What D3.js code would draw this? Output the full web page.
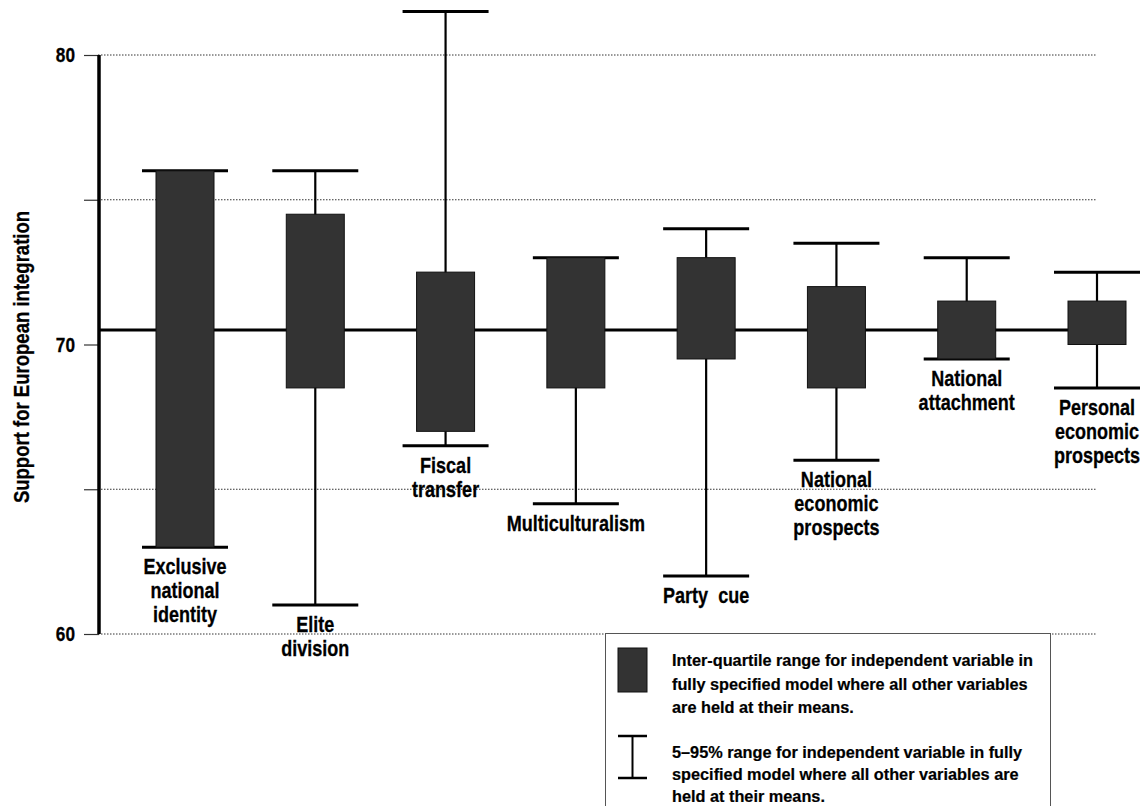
<!DOCTYPE html>
<html>
<head>
<meta charset="utf-8">
<script src="https://cdn.jsdelivr.net/npm/d3@7"></script>
<style>
  body { margin: 0; background: #fff; }
  svg { display: block; }
  text { font-family: "Liberation Sans", Arial, sans-serif; font-weight: bold; fill: #000; }
</style>
</head>
<body>
<svg id="chart" width="1144" height="806"></svg>
<script>
// categories and their label lines
var categories = ["excl", "elite", "fiscal", "multi", "party", "natecon", "natattach", "personal"];
var labels = [
  ["Exclusive", "national", "identity"],
  ["Elite", "division"],
  ["Fiscal", "transfer"],
  ["Multiculturalism"],
  ["Party  cue"],
  ["National", "economic", "prospects"],
  ["National", "attachment"],
  ["Personal", "economic", "prospects"]
];

// 5-95% range and inter-quartile range
var p5  = [63.0, 61.0, 66.5, 64.5, 62.0, 66.0, 69.5, 68.5];
var q1  = [63.0, 68.5, 67.0, 68.5, 69.5, 68.5, 69.5, 70.0];
var q3  = [76.0, 74.5, 72.5, 73.0, 73.0, 72.0, 71.5, 71.5];
var p95 = [76.0, 76.0, 81.5, 73.0, 74.0, 73.5, 73.0, 72.5];

var meanValue = 70.5;
var yTicks = [60, 65, 70, 75, 80];
var yTickLabels = [60, 70, 80];
var gridValues = [60, 65, 75, 80];

var legendLines1 = ["Inter-quartile range for independent variable in",
  "fully specified model where all other variables",
  "are held at their means."];
var legendLines2 = ["5\u201395% range for independent variable in fully",
  "specified model where all other variables are",
  "held at their means."];

var data = categories.map(function (c, i) {
  return { key: c, label: labels[i], p5: p5[i], q1: q1[i], q3: q3[i], p95: p95[i] };
});

var svg = d3.select("#chart");
var narrow = 0.82; // Arial Narrow look

var x = d3.scalePoint()
  .domain(categories)
  .range([185, 1097]);

var y = d3.scaleLinear()
  .domain([60, 80])
  .range([634, 55]);

var boxW = 58, capW = 86;

// dotted grid
svg.append("g")
  .selectAll("line")
  .data(gridValues)
  .join("line")
  .attr("x1", 98)
  .attr("x2", 1097)
  .attr("y1", d => y(d))
  .attr("y2", d => y(d))
  .attr("stroke", "#333")
  .attr("stroke-width", 1)
  .attr("stroke-dasharray", "1.5,1.5");

// y axis
var yAxis = d3.axisLeft(y)
  .tickValues(yTicks)
  .tickSize(15)
  .tickFormat("");

svg.append("g")
  .attr("transform", "translate(99,0)")
  .call(yAxis)
  .call(g => g.select(".domain").remove())
  .call(g => g.selectAll(".tick line").attr("stroke", "#333").attr("stroke-width", 1.2));

svg.append("line")
  .attr("x1", 99).attr("x2", 99)
  .attr("y1", y(80)).attr("y2", y(60))
  .attr("stroke", "#000")
  .attr("stroke-width", 3.5);

svg.append("g")
  .selectAll("text")
  .data(yTickLabels)
  .join("text")
  .attr("transform", d => `translate(75,${y(d) + 7}) scale(${narrow},1)`)
  .attr("text-anchor", "end")
  .attr("font-size", 21)
  .attr("stroke", "#000")
  .attr("stroke-width", 0.3)
  .text(d => d);

svg.append("text")
  .attr("transform", `translate(29,357) rotate(-90) scale(${narrow},1)`)
  .attr("text-anchor", "middle")
  .attr("font-size", 22.6)
  .attr("stroke", "#000")
  .attr("stroke-width", 0.3)
  .text("Support for European integration");

// mean line
svg.append("line")
  .attr("x1", 99)
  .attr("x2", x(categories[categories.length - 1]))
  .attr("y1", y(meanValue))
  .attr("y2", y(meanValue))
  .attr("stroke", "#000")
  .attr("stroke-width", 3);

var g = svg.append("g")
  .selectAll("g")
  .data(data)
  .join("g")
  .attr("transform", d => `translate(${x(d.key)},0)`);

// whiskers
g.append("line")
  .attr("y1", d => y(d.p95))
  .attr("y2", d => y(d.p5))
  .attr("stroke", "#000")
  .attr("stroke-width", 2.2);

g.append("line")
  .attr("x1", -capW / 2).attr("x2", capW / 2)
  .attr("y1", d => y(d.p95)).attr("y2", d => y(d.p95))
  .attr("stroke", "#000")
  .attr("stroke-width", 3);

g.append("line")
  .attr("x1", -capW / 2).attr("x2", capW / 2)
  .attr("y1", d => y(d.p5)).attr("y2", d => y(d.p5))
  .attr("stroke", "#000")
  .attr("stroke-width", 3);

// boxes
g.append("rect")
  .attr("x", -boxW / 2)
  .attr("width", boxW)
  .attr("y", d => y(d.q3))
  .attr("height", d => y(d.q1) - y(d.q3))
  .attr("fill", "#333")
  .attr("stroke", "#111")
  .attr("stroke-width", 1);

// labels under each lower cap
g.append("text")
  .attr("transform", d => `translate(0,${y(d.p5) + 27}) scale(${narrow},1)`)
  .attr("text-anchor", "middle")
  .attr("font-size", 22)
  .attr("stroke", "#000")
  .attr("stroke-width", 0.3)
  .style("white-space", "pre")
  .selectAll("tspan")
  .data(d => d.label)
  .join("tspan")
  .attr("x", 0)
  .attr("dy", (d, i) => i === 0 ? 0 : 24)
  .text(d => d);

// legend
var legend = svg.append("g");

legend.append("rect")
  .attr("x", 605.5)
  .attr("y", 633.5)
  .attr("width", 445)
  .attr("height", 200)
  .attr("fill", "#fff")
  .attr("stroke", "#555")
  .attr("stroke-width", 1);

legend.append("rect")
  .attr("x", 618)
  .attr("y", 648)
  .attr("width", 29)
  .attr("height", 44)
  .attr("fill", "#333")
  .attr("stroke", "#111");

legend.append("line")
  .attr("x1", 632.5).attr("x2", 632.5)
  .attr("y1", 736).attr("y2", 778)
  .attr("stroke", "#000").attr("stroke-width", 2);
legend.selectAll(".cap")
  .data([736, 778])
  .join("line")
  .attr("class", "cap")
  .attr("x1", 618).attr("x2", 647)
  .attr("y1", d => d).attr("y2", d => d)
  .attr("stroke", "#000").attr("stroke-width", 2.5);

legend.append("text")
  .attr("font-size", 16.3)
  .attr("stroke", "#000")
  .attr("stroke-width", 0.2)
  .selectAll("tspan")
  .data(legendLines1)
  .join("tspan")
  .attr("x", 672)
  .attr("y", (d, i) => 666 + i * 23.5)
  .text(d => d);

legend.append("text")
  .attr("font-size", 16.3)
  .attr("stroke", "#000")
  .attr("stroke-width", 0.2)
  .selectAll("tspan")
  .data(legendLines2)
  .join("tspan")
  .attr("x", 672)
  .attr("y", (d, i) => 758 + i * 22)
  .text(d => d);
</script>
</body>
</html>
